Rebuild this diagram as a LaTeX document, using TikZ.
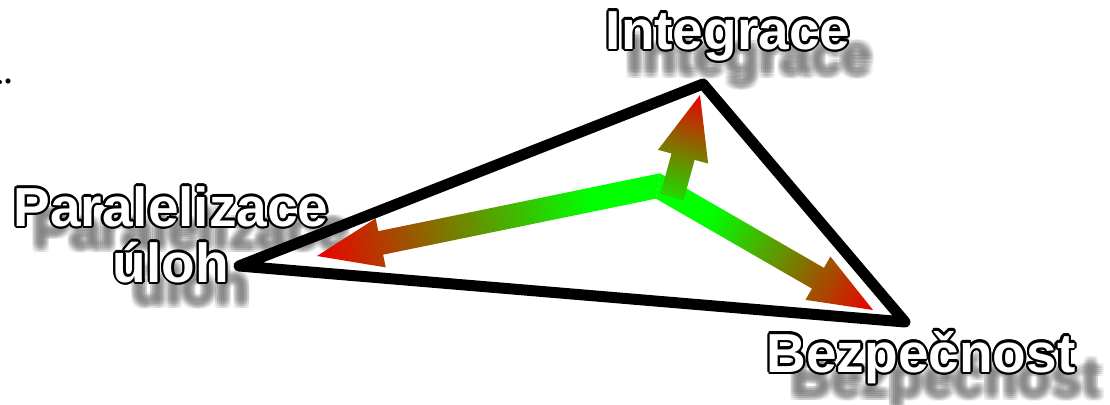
\documentclass[tikz,border=0pt]{standalone}
\usepackage{fontspec}
\setmainfont{Liberation Sans}
\definecolor{ag}{RGB}{0,255,0}
\definecolor{ar}{RGB}{235,0,0}
\colorlet{agt}{ag!85!ar}
\pgfdeclarehorizontalshading{shL}{100bp}{color(0bp)=(ag); color(35.5bp)=(ag); color(75bp)=(ar); color(100bp)=(ar)}
\pgfdeclarehorizontalshading{shR}{100bp}{color(0bp)=(ag); color(37.8bp)=(ag); color(75bp)=(ar); color(100bp)=(ar)}
\pgfdeclarehorizontalshading{shT}{100bp}{color(0bp)=(agt); color(25bp)=(agt); color(75bp)=(ar); color(100bp)=(ar)}
\newcommand\olt[1]{\leavevmode\rlap{\color{black}\foreach \dx/\dy in {2.2/0,2.033/0.842,1.556/1.556,0.842/2.033,0/2.2,-0.842/2.033,-1.556/1.556,-2.033/0.842,-2.2/0,-2.033/-0.842,-1.556/-1.556,-0.842/-2.033,0/-2.2,0.842/-2.033,1.556/-1.556,2.033/-0.842}{\rlap{\hspace*{\dx pt}\raisebox{\dy pt}{#1}}}}{\color{white}#1}}
\tikzset{
  lblfont/.style={font=\fontsize{55}{56}\selectfont\bfseries},
  lbl/.style={lblfont, inner sep=0pt, outer sep=0pt},
  shd/.style={lblfont, inner sep=0pt, outer sep=0pt, text=black!55, text opacity=0.085},
  tri/.style={line width=11pt, line join=round, draw=black},
}
\begin{document}
\begin{tikzpicture}[x=1pt,y=-1pt]
\useasboundingbox (0,0) rectangle (1110,404);
% blurred shadows
\foreach \dx in {-4,-2,0,2,4}{\foreach \dy in {-4,-2,0,2,4}{
  \node[shd, anchor=base] (shInt) at (750+\dx, 74+\dy) {Integrace};
  \node[shd, anchor=base] (shBez) at (946+\dx, 396+\dy) {Bezpečnost};
  \node[shd, anchor=north, align=center] (shPar) at (191+\dx, 209+\dy) {Paralelizace\\úloh};
}}
% dots
\fill (8,81) circle (2.6pt);
\fill (0,82) circle (2pt);
% triangle
\coordinate (vL) at (239,266);
\coordinate (vT) at (703,84);
\coordinate (vR) at (905,322);
\draw[tri] (vL) -- (vT) -- (vR) -- cycle;
% arrows
\coordinate (J) at (658,186);
\coordinate (BT) at (672,197);
\begin{scope}[transform canvas={shift={(J)},rotate=191.6}, x=1pt, y=1pt]
  \shade[shading=shL] (-4.56,-12) -- (283.1,-12) -- (283.1,-25) -- (348.1,0) -- (283.1,25) -- (283.1,12) -- (4.56,12) -- cycle;
\end{scope}
\begin{scope}[transform canvas={shift={(J)},rotate=-29.97}, x=1pt, y=1pt]
  \shade[shading=shR] (-4.55,12) -- (184.6,12) -- (184.6,25) -- (248.2,0) -- (184.6,-25) -- (184.6,-12) -- (4.55,-12) -- cycle;
\end{scope}
\begin{scope}[transform canvas={shift={(BT)},rotate=74.65}, x=1pt, y=1pt]
  \shade[shading=shT] (0,-12) -- (41.8,-12) -- (41.8,-26) -- (105.8,0) -- (41.8,26) -- (41.8,12) -- (0,12) -- cycle;
\end{scope}
% labels
\node[lbl, anchor=base] (int) at (728,49) {\olt{Integrace}};
\node[lbl, anchor=base] (bez) at (921,372) {\olt{Bezpečnost}};
\node[lbl, anchor=north, align=center] (par) at (171,184) {\olt{Paralelizace}\\\olt{úloh}};
\end{tikzpicture}
\end{document}
